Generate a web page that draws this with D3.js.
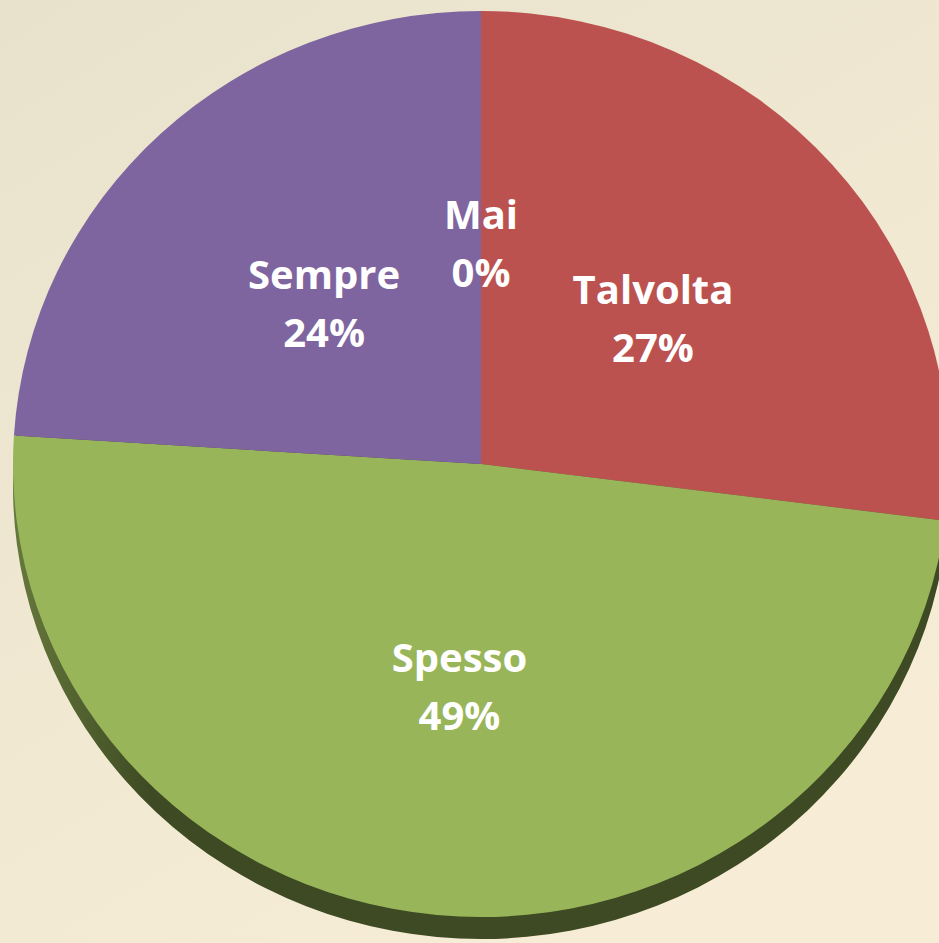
<!DOCTYPE html>
<html>
<head>
<meta charset="utf-8">
<script src="https://cdn.jsdelivr.net/npm/d3@7"></script>
<style>
  html, body { margin: 0; padding: 0; }
  svg { display: block; }
</style>
</head>
<body>
<svg id="chart" width="939" height="943"></svg>
<script>
// chart data
const categories = ["Talvolta", "Spesso", "Sempre", "Mai"];
const values = [27, 49, 24, 0];
const labels = ["27%", "49%", "24%", "0%"];
const topColors = ["#bb524f", "#99b55a", "#7f659f", "#4bacc6"];
const sideColors = ["#6e2d2b", "#3e4a23", "#4a3a5e", "#2a6575"];

const W = 939, H = 943;
const cx = 481, cy = 464;
const rx = 468, ry = 453;
const depth = 22;

const svg = d3.select("#chart");
const defs = svg.append("defs");

// background gradient
const bg = defs.append("linearGradient").attr("id", "bg")
    .attr("x1", "0%").attr("y1", "0%").attr("x2", "60%").attr("y2", "100%");
bg.append("stop").attr("offset", "0%").attr("stop-color", "#e8e2cc");
bg.append("stop").attr("offset", "100%").attr("stop-color", "#f7edd6");
svg.append("rect").attr("width", W).attr("height", H).attr("fill", "url(#bg)");

// shading on the side of the green slice (local coords of the pie group)
const sideGrad = defs.append("linearGradient").attr("id", "side")
    .attr("gradientUnits", "userSpaceOnUse")
    .attr("x1", -rx).attr("y1", 0).attr("x2", -330).attr("y2", 0);
sideGrad.append("stop").attr("offset", "0%").attr("stop-color", "#66793c");
sideGrad.append("stop").attr("offset", "100%").attr("stop-color", "#3e4a23");

const pie = d3.pie().sort(null).value(d => d)
    .startAngle(0).endAngle(2 * Math.PI);
const arcs = pie(values);

const arc = d3.arc().innerRadius(0).outerRadius(rx);
const labelArc = d3.arc().innerRadius(rx * 0.49).outerRadius(rx * 0.49);

// side (extrusion)
const side = svg.append("g")
    .attr("transform", `translate(${cx},${cy + depth}) scale(1,${ry / rx})`);
side.selectAll("path")
    .data(arcs.filter(a => a.value > 0))
    .join("path")
    .attr("d", arc)
    .attr("fill", d => d.index === 1 ? "url(#side)" : sideColors[d.index]);

// top faces
const face = svg.append("g")
    .attr("transform", `translate(${cx},${cy}) scale(1,${ry / rx})`);
face.selectAll("path")
    .data(arcs.filter(a => a.value > 0))
    .join("path")
    .attr("d", arc)
    .attr("fill", d => topColors[d.index]);

// labels
const lab = svg.append("g").attr("transform", `translate(${cx},${cy})`);
arcs.forEach(a => {
    const c = labelArc.centroid(a);
    const x = c[0];
    const y = c[1] * ry / rx - 5;
    const t = lab.append("text")
        .attr("x", x).attr("y", y)
        .attr("text-anchor", "middle")
        .attr("fill", "#ffffff")
        .style("font-family", "'Open Sans', Lato, sans-serif")
        .style("font-weight", "bold")
        .style("font-size", "40px");
    t.append("tspan").attr("x", x).attr("dy", "-0.2em").text(categories[a.index]);
    t.append("tspan").attr("x", x).attr("dy", "1.45em").text(labels[a.index]);
});
</script>
</body>
</html>
